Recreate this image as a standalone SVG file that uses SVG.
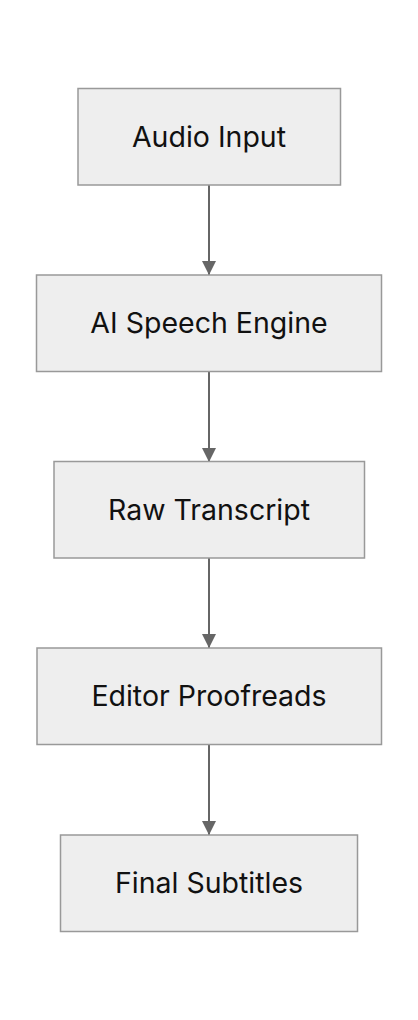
<svg xmlns="http://www.w3.org/2000/svg" width="418" height="1020" viewBox="0 0 418 1020">
<style>
.node rect{fill:#eeeeee;stroke:#999999;stroke-width:1.5}
.node text{font-family:Inter,"Noto Sans",sans-serif;font-size:28.5px;fill:#111111;text-anchor:middle;dominant-baseline:central}
.edge{stroke:#666666;stroke-width:2;fill:none;marker-end:url(#arr)}
</style>
<defs>
<marker id="arr" viewBox="0 0 14 14" refX="14" refY="7" markerWidth="14" markerHeight="14" markerUnits="userSpaceOnUse" orient="auto">
<path d="M0,0 L14,7 L0,14 z" fill="#666666"/>
</marker>
</defs>
<rect width="418" height="1020" fill="#ffffff"/>
<g id="connectors">
<line class="edge" x1="209" y1="185" x2="209" y2="275"/>
<line class="edge" x1="209" y1="372" x2="209" y2="462"/>
<line class="edge" x1="209" y1="558" x2="209" y2="648"/>
<line class="edge" x1="209" y1="745" x2="209" y2="835"/>
</g>
<g id="audio-input" class="node">
<rect x="78" y="88.5" width="262.5" height="96.5"/>
<text x="209" y="136">Audio Input</text>
</g>
<g id="ai-speech-engine" class="node">
<rect x="36.5" y="275" width="345" height="96.5"/>
<text x="209" y="322.5">AI Speech Engine</text>
</g>
<g id="raw-transcript" class="node">
<rect x="54" y="461.5" width="310.5" height="96.5"/>
<text x="209" y="509">Raw Transcript</text>
</g>
<g id="editor-proofreads" class="node">
<rect x="37" y="648" width="344.5" height="96.5"/>
<text x="209" y="695.5">Editor Proofreads</text>
</g>
<g id="final-subtitles" class="node">
<rect x="60.5" y="835" width="297" height="96.5"/>
<text x="209" y="882">Final Subtitles</text>
</g>
</svg>
